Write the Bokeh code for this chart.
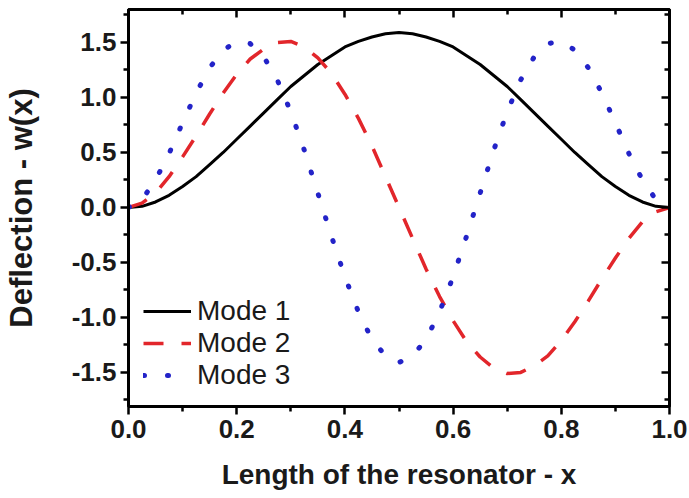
from bokeh.plotting import figure
from bokeh.models import Range1d, FixedTicker, LinearAxis, Legend, LegendItem
from bokeh.embed import file_html
from bokeh.resources import INLINE

# ---- data ----
x_pos = [0.000, 0.025, 0.050, 0.075, 0.100, 0.125, 0.150, 0.175, 0.200, 0.225,
         0.250, 0.275, 0.300, 0.325, 0.350, 0.375, 0.400, 0.425, 0.450, 0.475,
         0.500, 0.525, 0.550, 0.575, 0.600, 0.625, 0.650, 0.675, 0.700, 0.725,
         0.750, 0.775, 0.800, 0.825, 0.850, 0.875, 0.900, 0.925, 0.950, 0.975, 1.000]

mode1 = [0.00, 0.01, 0.05, 0.11, 0.19, 0.28, 0.39, 0.50, 0.62, 0.74,
         0.86, 0.98, 1.10, 1.20, 1.30, 1.38, 1.46, 1.51, 1.55, 1.58,
         1.59, 1.58, 1.55, 1.51, 1.46, 1.38, 1.30, 1.20, 1.10, 0.98,
         0.86, 0.74, 0.62, 0.50, 0.39, 0.28, 0.19, 0.11, 0.05, 0.01, 0.00]

mode2 = [0.00, 0.04, 0.13, 0.28, 0.46, 0.65, 0.85, 1.04, 1.21, 1.35,
         1.44, 1.50, 1.51, 1.46, 1.36, 1.22, 1.03, 0.81, 0.56, 0.28,
         0.00, -0.28, -0.56, -0.81, -1.03, -1.22, -1.36, -1.46, -1.51, -1.50,
         -1.44, -1.35, -1.21, -1.04, -0.85, -0.65, -0.46, -0.28, -0.13, -0.04, 0.00]

mode3 = [0.00, 0.07, 0.25, 0.49, 0.77, 1.04, 1.27, 1.43, 1.51, 1.49,
         1.37, 1.16, 0.87, 0.52, 0.13, -0.26, -0.63, -0.95, -1.20, -1.35,
         -1.41, -1.35, -1.20, -0.95, -0.63, -0.26, 0.13, 0.52, 0.87, 1.16,
         1.37, 1.49, 1.51, 1.43, 1.27, 1.04, 0.77, 0.49, 0.25, 0.07, 0.00]

series_names = ["Mode 1", "Mode 2", "Mode 3"]

x_ticks = [0.0, 0.2, 0.4, 0.6, 0.8, 1.0]
x_tick_labels = ["0.0", "0.2", "0.4", "0.6", "0.8", "1.0"]
x_minor = [0.1, 0.3, 0.5, 0.7, 0.9]
y_ticks = [-1.5, -1.0, -0.5, 0.0, 0.5, 1.0, 1.5]
y_tick_labels = ["-1.5", "-1.0", "-0.5", "0.0", "0.5", "1.0", "1.5"]
y_minor = [-1.75, -1.25, -0.75, -0.25, 0.25, 0.75, 1.25, 1.75]

x_title = "Length of the resonator - x"
y_title = "Deflection - w(x)"

FONT = "Liberation Sans"
TXT = "#1a1a1a"

p = figure(width=689, height=498, output_backend="svg", toolbar_location=None,
           x_range=Range1d(0, 1), y_range=Range1d(-1.81, 1.80),
           min_border_left=128, min_border_right=20, min_border_top=9,
           min_border_bottom=92, x_axis_type=None, y_axis_type=None)
p.background_fill_color = "white"
p.border_fill_color = "white"
p.outline_line_color = "black"
p.outline_line_width = 3
p.xgrid.visible = False
p.ygrid.visible = False

def style(ax, outward, labels):
    ax.axis_line_width = 3
    ax.axis_line_color = "black"
    ax.major_tick_line_width = 2.5
    ax.minor_tick_line_width = 2.5
    if outward:
        ax.major_tick_out, ax.major_tick_in = 8, 0
        ax.minor_tick_out, ax.minor_tick_in = 5, 0
    else:
        ax.major_tick_out, ax.major_tick_in = 0, 8
        ax.minor_tick_out, ax.minor_tick_in = 0, 5
    if labels:
        ax.major_label_text_font = FONT
        ax.major_label_text_font_style = "bold"
        ax.major_label_text_font_size = "26px"
        ax.major_label_text_color = TXT
        ax.axis_label_text_font = FONT
        ax.axis_label_text_font_style = "bold"
        ax.axis_label_text_color = TXT
    else:
        ax.major_label_text_font_size = "1px"
        ax.major_label_text_color = None
        ax.major_label_standoff = 0

xt = FixedTicker(ticks=x_ticks, minor_ticks=x_minor)
yt = FixedTicker(ticks=y_ticks, minor_ticks=y_minor)

xb = LinearAxis(ticker=xt, axis_label=x_title,
                major_label_overrides=dict(zip(x_ticks, x_tick_labels)))
style(xb, True, True)
xb.major_label_standoff = 5
xb.axis_label_standoff = 18
xb.axis_label_text_font_size = "28px"
p.add_layout(xb, "below")

yl = LinearAxis(ticker=yt, axis_label=y_title,
                major_label_overrides=dict(zip(y_ticks, y_tick_labels)))
style(yl, True, True)
yl.major_label_standoff = 4
yl.axis_label_standoff = 30
yl.axis_label_text_font_size = "31px"
p.add_layout(yl, "left")

xa = LinearAxis(ticker=xt)
style(xa, False, False)
p.add_layout(xa, "above")

yr = LinearAxis(ticker=yt)
style(yr, False, False)
p.add_layout(yr, "right")

r1 = p.line(x_pos, mode1, line_color="#000000", line_width=3)
r2 = p.line(x_pos, mode2, line_color="#e2262b", line_width=3.5, line_dash="20 18")
r3 = p.line(x_pos, mode3, line_color="#2323c8", line_width=5, line_dash="1 23",
            line_cap="round")

legend = Legend(items=[LegendItem(label=series_names[0], renderers=[r1]),
                       LegendItem(label=series_names[1], renderers=[r2]),
                       LegendItem(label=series_names[2], renderers=[r3])],
                location=(15, 15), padding=0, margin=0, spacing=0,
                glyph_width=48, glyph_height=20, label_standoff=6,
                label_text_font=FONT, label_text_font_size="28px",
                label_text_color=TXT, border_line_color=None,
                background_fill_alpha=0)
p.add_layout(legend)

open("out.html", "w").write(file_html(p, INLINE))
